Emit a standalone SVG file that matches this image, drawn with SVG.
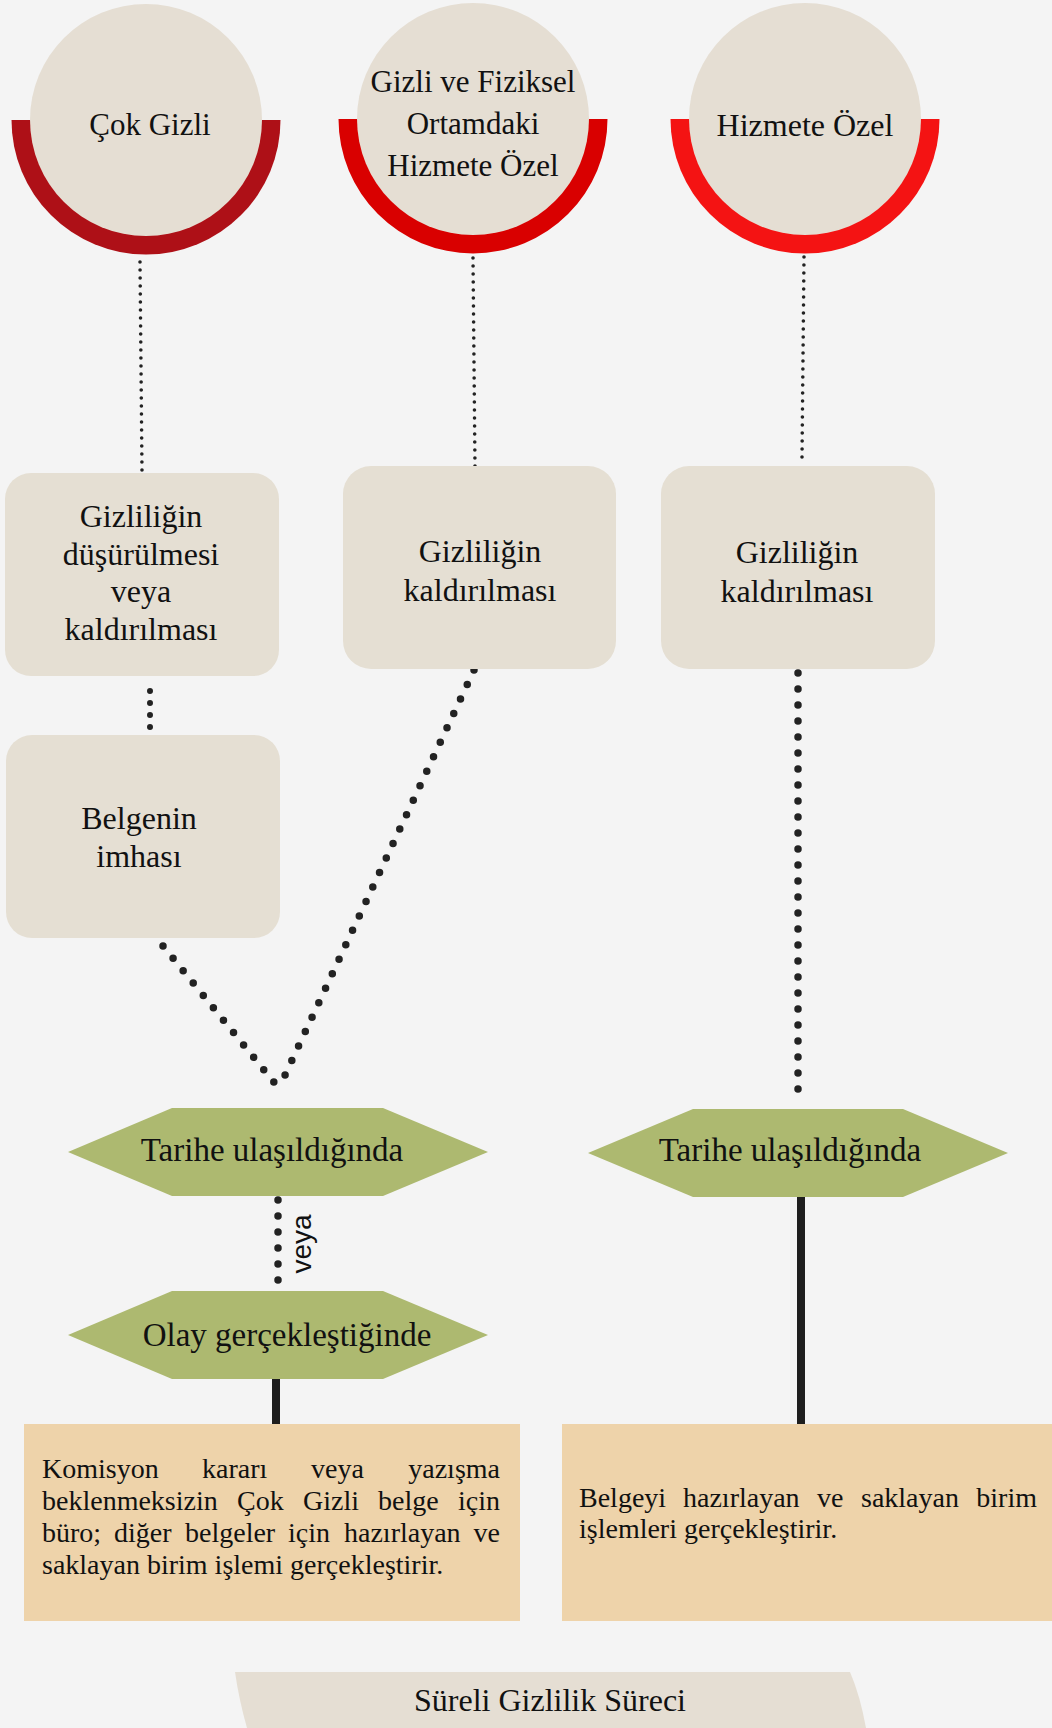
<svg xmlns="http://www.w3.org/2000/svg" width="1052" height="1728" viewBox="0 0 1052 1728">
<style>
.bg{fill:#F4F4F4}
.disc{fill:#E5DED3}
.box{fill:#E5DFD3}
.hex{fill:#ADB970}
.note{fill:#EED3AA}
.t{font-family:"Liberation Serif","DejaVu Serif",serif;fill:#111;text-anchor:middle}
.c{font-size:31px}
.b{font-size:32px}
.h{font-size:33px}
.n{font-family:"Liberation Serif","DejaVu Serif",serif;fill:#111;font-size:28px}
.dotS{stroke:#222;stroke-width:3.6;stroke-linecap:round;stroke-dasharray:0 8;fill:none}
.dotM{stroke:#222;stroke-width:6;stroke-linecap:round;stroke-dasharray:0 12;fill:none}
.dotL{stroke:#222;stroke-width:7.5;stroke-linecap:round;stroke-dasharray:0 16;fill:none}
.solid{stroke:#1E1E1E;stroke-width:8;fill:none}
</style>
<rect class="bg" x="0" y="0" width="1052" height="1728"/>

<g id="connectors">
  <line class="dotS" x1="140" y1="262" x2="142" y2="471"/>
  <line class="dotS" x1="473" y1="258" x2="475" y2="467"/>
  <line class="dotS" x1="804" y1="257" x2="802" y2="458"/>
  <line class="dotM" x1="150" y1="691" x2="150" y2="728"/>
  <line class="dotL" x1="474" y1="670" x2="284.6" y2="1076" style="stroke-dasharray:0 15.96"/>
  <line class="dotL" x1="163" y1="946" x2="274.6" y2="1083" style="stroke-dasharray:0 15.95"/>
  <line class="dotL" x1="798" y1="673" x2="798" y2="1090"/>
  <line class="dotL" x1="278" y1="1200" x2="278" y2="1281"/>
  <line class="solid" x1="276" y1="1378" x2="276" y2="1425"/>
  <line class="solid" x1="801" y1="1196" x2="801" y2="1425"/>
  <text x="311" y="1244" transform="rotate(-90 311 1244)" style="font-family:'Liberation Sans','DejaVu Sans',sans-serif;font-size:28px;fill:#111;text-anchor:middle">veya</text>
</g>

<g id="node-cok-gizli">
  <path d="M11.5,120 A134.5,134.5 0 0 0 280.5,120 Z" fill="#AE1017"/>
  <circle class="disc" cx="146" cy="120" r="116"/>
  <text class="t c" x="150" y="135">Çok Gizli</text>
</g>

<g id="node-gizli-fiziksel">
  <path d="M338.5,119 A134.5,134.5 0 0 0 607.5,119 Z" fill="#D90000"/>
  <circle class="disc" cx="473" cy="119" r="116"/>
  <text class="t c" x="473" y="92">Gizli ve Fiziksel</text>
  <text class="t c" x="473" y="134">Ortamdaki</text>
  <text class="t c" x="473" y="176">Hizmete Özel</text>
</g>

<g id="node-hizmete-ozel">
  <path d="M670.5,119 A134.5,134.5 0 0 0 939.5,119 Z" fill="#F41313"/>
  <circle class="disc" cx="805" cy="119" r="116"/>
  <text class="t" x="805" y="136" style="font-size:32px">Hizmete Özel</text>
</g>

<g id="node-dusurulmesi">
  <rect class="box" x="5" y="473" width="274" height="203" rx="26"/>
  <text class="t b" x="141" y="527">Gizliliğin</text>
  <text class="t b" x="141" y="565">düşürülmesi</text>
  <text class="t b" x="141" y="602">veya</text>
  <text class="t b" x="141" y="640">kaldırılması</text>
</g>

<g id="node-kaldirilmasi-1">
  <rect class="box" x="343" y="466" width="273" height="203" rx="28"/>
  <text class="t b" x="480" y="562">Gizliliğin</text>
  <text class="t b" x="480" y="601">kaldırılması</text>
</g>

<g id="node-kaldirilmasi-2">
  <rect class="box" x="661" y="466" width="274" height="203" rx="28"/>
  <text class="t b" x="797" y="563">Gizliliğin</text>
  <text class="t b" x="797" y="602">kaldırılması</text>
</g>

<g id="node-imha">
  <rect class="box" x="6" y="735" width="274" height="203" rx="26"/>
  <text class="t b" x="139" y="829">Belgenin</text>
  <text class="t b" x="139" y="867">imhası</text>
</g>

<g id="node-tarihe-1">
  <polygon class="hex" points="68,1152 172,1108 383,1108 488,1152 383,1196 172,1196"/>
  <text class="t h" x="272" y="1161">Tarihe ulaşıldığında</text>
</g>

<g id="node-olay">
  <polygon class="hex" points="68,1335 172,1291 383,1291 488,1335 383,1379 172,1379"/>
  <text class="t h" x="287" y="1346">Olay gerçekleştiğinde</text>
</g>

<g id="node-tarihe-2">
  <polygon class="hex" points="588,1153 693,1109 903,1109 1008,1153 903,1197 693,1197"/>
  <text class="t h" x="790" y="1161">Tarihe ulaşıldığında</text>
</g>

<g id="node-note-left">
  <rect class="note" x="24" y="1424" width="496" height="197"/>
  <text class="n" y="1478"><tspan x="42">Komisyon</tspan><tspan x="202">kararı</tspan><tspan x="311">veya</tspan><tspan x="500" text-anchor="end">yazışma</tspan></text>
  <text class="n" y="1510"><tspan x="42">beklenmeksizin</tspan><tspan x="237">Çok</tspan><tspan x="303">Gizli</tspan><tspan x="378">belge</tspan><tspan x="500" text-anchor="end">için</tspan></text>
  <text class="n" y="1542"><tspan x="42">büro;</tspan><tspan x="114">diğer</tspan><tspan x="185">belgeler</tspan><tspan x="288">için</tspan><tspan x="344">hazırlayan</tspan><tspan x="500" text-anchor="end">ve</tspan></text>
  <text class="n" x="42" y="1574">saklayan birim işlemi gerçekleştirir.</text>
</g>

<g id="node-note-right">
  <rect class="note" x="562" y="1424" width="490" height="197"/>
  <text class="n" y="1507"><tspan x="579">Belgeyi</tspan><tspan x="683">hazırlayan</tspan><tspan x="817">ve</tspan><tspan x="861">saklayan</tspan><tspan x="1037" text-anchor="end">birim</tspan></text>
  <text class="n" x="579" y="1538">işlemleri gerçekleştirir.</text>
</g>

<g id="node-title">
  <path d="M235,1672 L850,1672 Q860,1695 866,1728 L247,1728 Q239,1700 235,1672 Z" fill="#E5DED3"/>
  <text class="t" x="550" y="1711" style="font-size:32px">Süreli Gizlilik Süreci</text>
</g>
</svg>
